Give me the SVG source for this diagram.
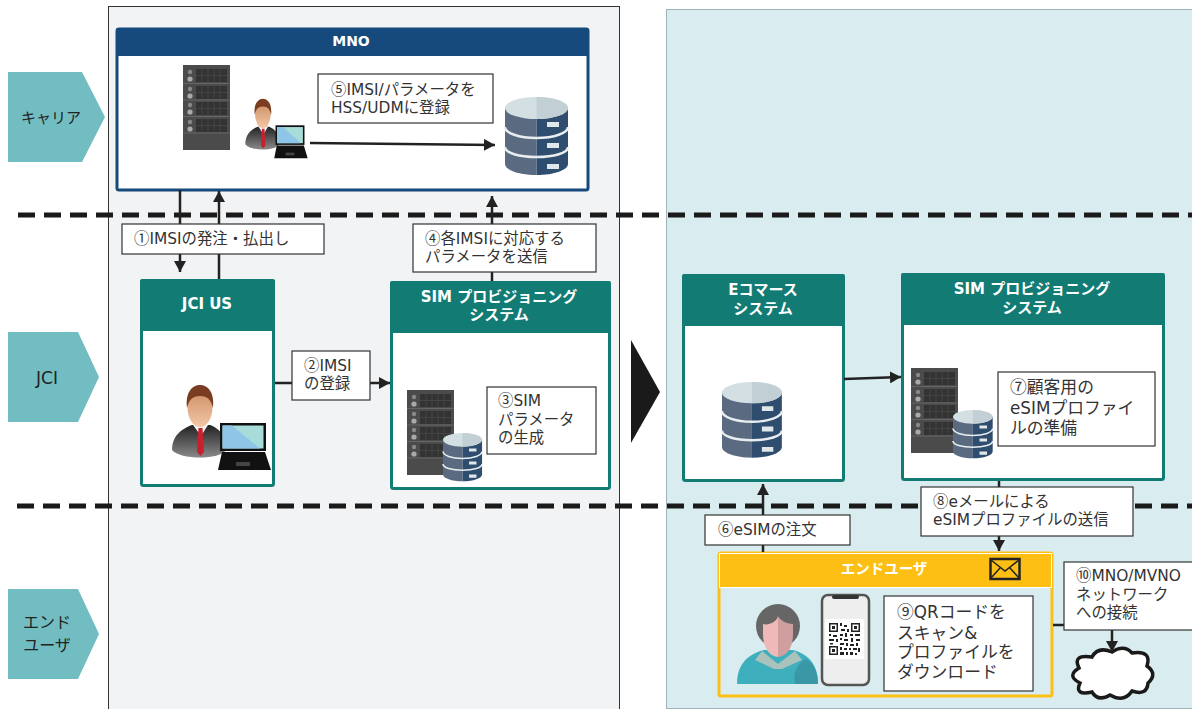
<svg xmlns="http://www.w3.org/2000/svg" width="1192" height="709" viewBox="0 0 1192 709">
<style>
text{font-family:"DejaVu Sans","Noto Sans CJK JP",sans-serif;fill:#333;font-size:15.400px}
.n{font-family:"Noto Sans CJK JP",sans-serif}
.h{font-weight:700;font-size:15px;fill:#fff;text-anchor:middle}
.c{font-size:15px;fill:#222;text-anchor:middle}
.l{font-size:16.800px}
.box{fill:#fff;stroke:#333;stroke-width:1.2}
.arrow{fill:none;stroke:#222;stroke-width:2.5}
.tealbox{fill:#fff;stroke:#127c74;stroke-width:3}
.teal{fill:#127c74}
.chev{fill:#72bdc1}
.dash{stroke:#1a1a1a;stroke-width:5;stroke-dasharray:17 9;fill:none}
</style>
<defs>
<marker id="ah" markerUnits="userSpaceOnUse" markerWidth="12" markerHeight="12" refX="11" refY="6" orient="auto"><path d="M0 0L11 6L0 12Z" fill="#222"/></marker>
<g id="unit">
<circle cx="7" cy="4" r="2.2" fill="#888"/><circle cx="7" cy="11" r="2.6" fill="#aaa"/>
<rect x="13" y="1" width="31" height="13" fill="#333"/>
<path d="M19 1v13M25 1v13M31 1v13M37 1v13M13 7.500h31" stroke="#444" stroke-width="1"/>
</g>
<g id="server">
<rect width="47" height="85" fill="#4b4b4b"/>
<use href="#unit" y="3"/><use href="#unit" y="20"/><use href="#unit" y="36"/><use href="#unit" y="53"/>
<path d="M0 18.500h47M0 35h47M0 51.500h47M0 68h47" stroke="#666" stroke-width="1"/>
</g>
<g id="db">
<path d="M0 11V67C0 73 14 78 31.500 78V11Z" fill="#5a6a80"/>
<path d="M63 11V67C63 73 49 78 31.500 78V11Z" fill="#2f4d6e"/>
<ellipse cx="31.500" cy="11" rx="31.500" ry="11" fill="#d3dfe3"/>
<path d="M31.500 0V22C49 22 63 17 63 11S49 0 31.500 0Z" fill="#c2d0d6"/>
<path d="M0 30C0 36 14 41 31.500 41S63 36 63 30M0 50C0 56 14 60 31.500 60S63 56 63 50" fill="none" stroke="#e8eef0" stroke-width="2.500"/>
<path d="M42 25h12v5h-12zM42 46h12v5h-12zM42 67h12v5h-12z" fill="#dfe7ea"/>
</g>
<linearGradient id="suit" x1="0" y1="0" x2="0" y2="1"><stop offset="0" stop-color="#222"/><stop offset="1" stop-color="#8a8a8a"/></linearGradient>
<linearGradient id="face" x1="0" y1="0" x2="0" y2="1"><stop offset="0" stop-color="#c98a60"/><stop offset="1" stop-color="#f3c6a5"/></linearGradient>
<g id="person">
<path d="M2 66C2 50 14 44 22 41H40C48 44 56 50 56 66C50 76 10 76 2 66Z" fill="url(#suit)"/>
<path d="M23 41L31 52L38 41Z" fill="#f2f2f2"/>
<path d="M28.500 44h4l1.500 24l-3.500 4l-3.500-4Z" fill="#c8202c"/>
<ellipse cx="30" cy="23" rx="12.500" ry="20" fill="url(#face)"/>
<path d="M17 24C15 6 24 1 30 1S45 6 43 24C41 16 38 12 30 12S19 16 17 24Z" fill="#7a3d22"/>
<rect x="50" y="39" width="46" height="28" fill="#111"/>
<rect x="52.500" y="41.500" width="41" height="23" fill="#a8dcd8"/>
<path d="M52.500 41.500H62L90 64.500H52.500Z" fill="#8fc6e8"/>
<path d="M52 68H95L101 86H48Z" fill="#111"/>
<rect x="66" y="78" width="14" height="4" fill="#444"/>
</g>
</defs>

<rect width="1192" height="709" fill="#fff"/>
<g id="panels">
<rect x="108.500" y="6.500" width="511" height="710" fill="#f2f3f5" stroke="#333"/>
<rect x="666.500" y="9.500" width="530" height="699" fill="#d9ecf0" stroke="#9db4b8"/>
</g>
<g id="big-arrow"><path d="M631 340L660 392L631 443Z" fill="#1a1a1a"/></g>

<g id="lane-carrier"><path class="chev" d="M8 72H82L105 117L82 162H8Z"/><text class="c" x="51" y="123">キャリア</text></g>
<g id="lane-jci"><path class="chev" d="M8 332H78L99 377L78 422H8Z"/><text class="c" x="47" y="384" style="font-size:17px">JCI</text></g>
<g id="lane-enduser"><path class="chev" d="M8 589H78L99 634L78 679H8Z"/><text class="c" style="font-size:16px"><tspan x="47" y="628">エンド</tspan><tspan x="47" y="651">ユーザ</tspan></text></g>

<g id="separators">
<path class="dash" d="M18 215H1192"/>
<path class="dash" d="M17 506H1192"/>
</g>

<g id="node-mno">
<rect x="117" y="29" width="471" height="161" rx="2" fill="#fff" stroke="#174a7c" stroke-width="3"/>
<rect x="116" y="28" width="473" height="28" rx="2" fill="#174a7c"/>
<text class="h" x="351" y="46" style="font-size:14px">MNO</text>
<use href="#server" x="183" y="65"/>
<use href="#person" transform="translate(244 98) scale(.63 .7)"/>
<use href="#db" x="505" y="97"/>
</g>

<g id="node-jci-us">
<rect class="tealbox" x="141.500" y="280.500" width="132" height="205" rx="2"/>
<rect class="teal" x="140" y="279" width="135" height="52" rx="2"/>
<text class="h" x="207" y="309">JCI US</text>
<use href="#person" x="170" y="384"/>
</g>
<g id="node-sim-left">
<rect class="tealbox" x="391.500" y="282.500" width="218" height="206" rx="2"/>
<rect class="teal" x="390" y="281" width="221" height="52" rx="2"/>
<text class="h"><tspan x="499" y="302">SIM プロビジョニング</tspan><tspan x="499" y="320">システム</tspan></text>
<use href="#server" x="407" y="390"/>
<use href="#db" transform="translate(443 433) scale(.62)"/>
</g>
<g id="node-ecommerce">
<rect class="tealbox" x="683.500" y="275.500" width="160" height="205" rx="2"/>
<rect class="teal" x="682" y="274" width="163" height="52" rx="2"/>
<text class="h"><tspan x="763" y="295">Eコマース</tspan><tspan x="763" y="314">システム</tspan></text>
<use href="#db" transform="translate(722 382) scale(.95 .97)"/>
</g>
<g id="node-sim-right">
<rect class="tealbox" x="902.500" y="274.500" width="261" height="205" rx="2"/>
<rect class="teal" x="901" y="273" width="264" height="52" rx="2"/>
<text class="h"><tspan x="1032" y="294">SIM プロビジョニング</tspan><tspan x="1032" y="313">システム</tspan></text>
<use href="#server" x="911" y="368"/>
<use href="#db" transform="translate(953 410) scale(.63 .62)"/>
</g>

<g id="node-enduser">
<rect x="719" y="553" width="333" height="143" rx="2" fill="none" stroke="#fdbf14" stroke-width="3"/>
<rect x="719.500" y="553.500" width="332" height="34" fill="#fdbf14" stroke="#fff"/>
<text class="h" x="884" y="574" style="font-size:14.500px">エンドユーザ</text>
<g id="envelope"><rect x="990.500" y="559" width="29" height="20" fill="#fdbf14" stroke="#222" stroke-width="2.500"/><path d="M991 560L1005 571L1019 560M991 578L1000 568M1019 578L1010 568" fill="none" stroke="#222" stroke-width="1.500"/></g>
<g id="user">
<path d="M737 684C737 664 748 654 764 650L793 650C808 654 818 664 818 684Z" fill="#3eb0bd"/>
<path d="M795 684C792 670 800 662 806 659C814 664 818 672 818 684Z" fill="#3a98a6"/>
<path d="M762 651L778 664L795 651L802 660L782 669H774L755 660Z" fill="#a9c2bc"/>
<circle cx="778" cy="626" r="22" fill="#666"/>
<path d="M763 624C770 626 778 620 778 616V657C768 656 763 646 763 634Z" fill="#f0b9b9"/>
<path d="M793 624C786 624 780 620 778 616V657C788 656 793 646 793 634Z" fill="#cf9f9f"/>
</g>
<g id="phone">
<rect x="822" y="595" width="47" height="90" rx="6" fill="#eee" stroke="#555" stroke-width="2.500"/>
<rect x="832" y="595" width="27" height="4" rx="2" fill="#333"/>
<rect x="825" y="619" width="39" height="40" fill="#fff"/>
<path fill="#222" fill-rule="evenodd" d="M829 623h9v9h-9zM830.500 624.500v6h6v-6zM832 626h3v3h-3zM851 623h9v9h-9zM852.500 624.500v6h6v-6zM854 626h3v3h-3zM829 646h9v9h-9zM830.500 647.500v6h6v-6zM832 649h3v3h-3zM840 623h2v3h-2zM844 625h3v2h-3zM841 629h4v2h-4zM847 629h2v3h-2zM840 634h3v2h-3zM845 633h2v4h-2zM829 634h2v2h-2zM833 635h4v2h-4zM829 639h5v2h-5zM836 639h2v3h-2zM840 638h2v2h-2zM844 639h4v2h-4zM850 634h3v2h-3zM855 634h5v2h-5zM851 638h2v4h-2zM856 639h4v2h-4zM830 643h3v1.500h-3zM840 643h4v2h-4zM846 643h2v3h-2zM850 644h4v2h-4zM856 643h2v3h-2zM840 647h2v3h-2zM844 648h3v2h-3zM849 648h2v2h-2zM853 648h4v2h-4zM858 648h2v4h-2zM840 652h4v3h-4zM846 652h2v3h-2zM850 652h3v3h-3zM855 653h2v2h-2z"/>
</g>
</g>
<g id="node-cloud"><path d="M1079 668Q1072 654 1092 657Q1098 646 1112 652Q1124 644 1132 653Q1152 650 1147 666Q1158 674 1148 683Q1147 696 1132 691Q1124 703 1110 695Q1098 702 1092 692Q1074 696 1080 683Q1066 676 1079 668Z" fill="#fff" stroke="#1a1a1a" stroke-width="3.500"/></g>

<g id="connectors">
<path class="arrow" marker-end="url(#ah)" d="M180 190V272"/>
<path class="arrow" marker-end="url(#ah)" d="M219 279V191"/>
<path class="arrow" marker-end="url(#ah)" d="M492 281V196"/>
<path class="arrow" marker-end="url(#ah)" d="M275 383H390"/>
<path class="arrow" marker-end="url(#ah)" d="M310 143L495 145"/>
<path class="arrow" marker-end="url(#ah)" d="M844 379L901 377"/>
<path class="arrow" marker-end="url(#ah)" d="M763 552V484"/>
<path class="arrow" marker-end="url(#ah)" d="M999 481V551"/>
<path class="arrow" d="M1053 625H1064"/>
<path class="arrow" marker-end="url(#ah)" d="M1112 630V652"/>
</g>

<g id="label-5"><rect class="box" x="318" y="74" width="175" height="49"/><text><tspan x="331" y="94.500"><tspan class="n">⑤</tspan>IMSI/パラメータを</tspan><tspan x="331" y="112.500">HSS/UDMに登録</tspan></text></g>
<g id="label-1"><rect class="box" x="122" y="224" width="202" height="30"/><text x="134" y="244"><tspan class="n">①</tspan>IMSIの発注・払出し</text></g>
<g id="label-4"><rect class="box" x="413" y="224" width="183" height="48"/><text><tspan x="425" y="244"><tspan class="n">④</tspan>各IMSIに対応する</tspan><tspan x="425" y="262">パラメータを送信</tspan></text></g>
<g id="label-2"><rect class="box" x="292" y="351" width="78" height="49"/><text><tspan x="304" y="371"><tspan class="n">②</tspan>IMSI</tspan><tspan x="304" y="389">の登録</tspan></text></g>
<g id="label-3"><rect class="box" x="487" y="387" width="109" height="67"/><text><tspan x="498" y="406"><tspan class="n">③</tspan>SIM</tspan><tspan x="498" y="425">パラメータ</tspan><tspan x="498" y="443">の生成</tspan></text></g>
<g id="label-7"><rect class="box" x="998" y="372" width="157" height="74"/><text class="l"><tspan x="1010" y="393"><tspan class="n">⑦</tspan>顧客用の</tspan><tspan x="1010" y="414">eSIMプロファイ</tspan><tspan x="1010" y="434">ルの準備</tspan></text></g>
<g id="label-6"><rect class="box" x="705" y="515" width="145" height="30"/><text x="718" y="535"><tspan class="n">⑥</tspan>eSIMの注文</text></g>
<g id="label-8"><rect class="box" x="921" y="487" width="212" height="49"/><text><tspan x="933" y="507"><tspan class="n">⑧</tspan>eメールによる</tspan><tspan x="933" y="525">eSIMプロファイルの送信</tspan></text></g>
<g id="label-9"><rect class="box" x="884" y="596" width="149" height="95"/><text class="l"><tspan x="897" y="618"><tspan class="n">⑨</tspan>QRコードを</tspan><tspan x="897" y="639">スキャン&amp;</tspan><tspan x="897" y="658">プロファイルを</tspan><tspan x="897" y="678">ダウンロード</tspan></text></g>
<g id="label-10"><rect class="box" x="1064" y="562" width="134" height="68"/><text><tspan x="1076" y="581"><tspan class="n">⑩</tspan>MNO/MVNO</tspan><tspan x="1076" y="600">ネットワーク</tspan><tspan x="1076" y="618">への接続</tspan></text></g>
</svg>
